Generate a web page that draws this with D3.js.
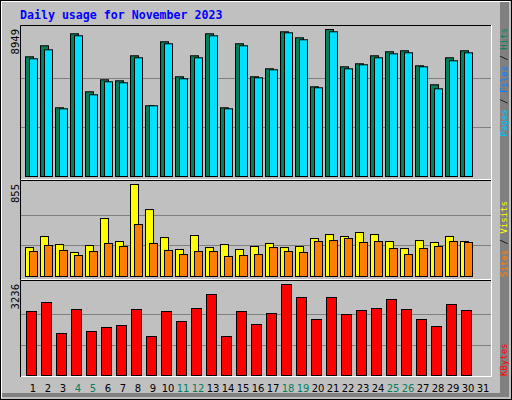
<!DOCTYPE html><html><head><meta charset="utf-8"><script src="https://cdn.jsdelivr.net/npm/d3@7"></script>
<style>body{margin:0}</style></head><body><svg id="c" width="512" height="400"></svg>
<script>
const days=d3.range(1,32);
const weekend=[4,5,11,12,18,19,25,26];
const hits=[7287,7957,4182,8687,5157,5887,5826,7348,4304,8200,6070,7348,8687,4182,8079,6070,6557,8809,8444,5461,8949,6678,6861,7348,7592,7653,6739,5583,7226,7653];
const files=[7166,7713,4122,8566,4974,5765,5704,7226,4304,8079,5948,7226,8566,4122,7957,6009,6496,8748,8322,5400,8809,6557,6800,7226,7470,7531,6678,5339,7044,7531];
const visits=[269,372,297,223,288,539,325,855,622,362,251,381,269,297,251,279,307,269,279,353,390,372,409,390,325,260,334,316,372,325];
const sites=[232,288,242,195,232,307,279,483,307,242,204,232,232,186,195,204,269,232,223,325,334,353,316,325,260,204,260,279,325,316];
const kbytes=[2276,2596,1494,2347,1565,1707,1778,2347,1387,2276,1920,2382,2880,1387,2276,1814,2205,3236,2774,1991,2774,2169,2311,2382,2703,2347,1991,1742,2525,2311];

const svg=d3.select("#c");
svg.append("rect").attr("width",512).attr("height",400).attr("fill","#c0c0c0");
svg.append("path").attr("d","M500,2 L509,2 L509,397 L2,397 L2,393 L500,393Z").attr("fill","#808080");
svg.append("rect").attr("x",0.5).attr("y",0.5).attr("width",511).attr("height",399).attr("fill","none").attr("stroke","#000");
svg.append("path").attr("d","M1.5,398 L1.5,1.5 L510,1.5").attr("fill","none").attr("stroke","#fff");
svg.append("text").attr("x",20).attr("y",19).text("Daily usage for November 2023")
  .attr("font-family","DejaVu Sans Mono").attr("font-weight","bold").attr("font-size",11.6).attr("fill","#0000ff");

const x=d3.scaleLinear().domain([1,31]).range([25,475]);
function panel(y0,y1,base,top,max){
  svg.append("rect").attr("x",20).attr("y",y0).attr("width",471).attr("height",y1-y0).attr("fill","#c0c0c0");
  svg.append("path").attr("d",`M20.5,${y1} L20.5,${y0+0.5} L491,${y0+0.5}`).attr("fill","none").attr("stroke","#000");
  svg.append("path").attr("d",`M21,${y1-0.5} L491.5,${y1-0.5} L491.5,${y0}`).attr("fill","none").attr("stroke","#fff");
  const y=d3.scaleLinear().domain([0,max]).range([base,top]);
  [max/3,2*max/3].forEach(v=>svg.append("line").attr("x1",21).attr("x2",491).attr("y1",Math.round(y(v))+0.5).attr("y2",Math.round(y(v))+0.5).attr("stroke","#808080"));
  svg.append("text").attr("transform",`translate(19,${top}) rotate(-90)`).attr("text-anchor","end")
    .attr("font-family","DejaVu Sans").attr("font-size",10).text(max);
  return y;
}
function bars(data,y,dx,w,color){
  svg.append("g").selectAll("rect").data(data).join("rect")
    .attr("x",(d,i)=>x(i+1)+dx+0.5).attr("width",w).attr("y",d=>y(d)+0.5).attr("height",d=>y(0)-y(d))
    .attr("fill",color).attr("stroke","#000");
}
const y1=panel(25,180,176,29,8949);
bars(hits,y1,0,8,"#00805c"); bars(files,y1,4,8,"#00e0ff");
const y2=panel(180,280,276,184,855);
bars(visits,y2,0,8,"#ffff00"); bars(sites,y2,4,8,"#ff8000");
const y3=panel(280,377,375,284,3236);
bars(kbytes,y3,1,10,"#ff0000");

svg.append("g").selectAll("text").data(days).join("text")
  .attr("x",d=>x(d)+8).attr("y",392).attr("text-anchor","middle")
  .attr("font-family","DejaVu Sans").attr("font-size",10)
  .attr("fill",d=>weekend.includes(d)?"#00805c":"#000").text(d=>d);

function rlabel(yp,anchor,parts){
  const t=svg.append("text").attr("transform",`translate(507,${yp}) rotate(-90)`).attr("text-anchor",anchor)
    .attr("font-family","DejaVu Sans Mono").attr("font-size",9);
  parts.forEach(p=>t.append("tspan").attr("fill",p[1]).text(p[0]));
}
rlabel(28,"end",[["Pages","#00c0ff"],[" / ","#000"],["Files","#0080ff"],[" / ","#000"],["Hits","#00805c"]]);
rlabel(277,"start",[["Sites","#ff8000"],[" / ","#000"],["Visits","#ffff00"]]);
rlabel(376,"start",[["KBytes","#ff0000"]]);
</script></body></html>
